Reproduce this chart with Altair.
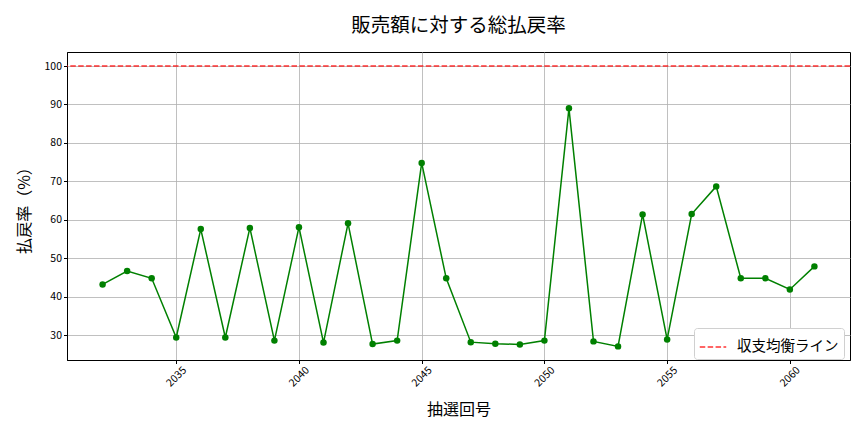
import altair as alt
import pandas as pd

rounds = list(range(2032, 2062))
rates = [43.2, 46.7, 44.8, 29.4, 57.6, 29.4, 57.9, 28.6, 58.1, 28.1,
         59.1, 27.7, 28.6, 74.8, 44.8, 28.2, 27.8, 27.6, 28.6, 89.0,
         28.4, 27.1, 61.4, 28.9, 61.5, 68.7, 44.8, 44.8, 41.9, 47.9]
x_ticks = [2035, 2040, 2045, 2050, 2055, 2060]
y_ticks = [30, 40, 50, 60, 70, 80, 90, 100]
breakeven_value = 100
breakeven_label = "収支均衡ライン"

FONT = "Noto Sans CJK JP"

df = pd.DataFrame({"round": rounds, "rate": rates})
ref_df = pd.DataFrame({"y": [breakeven_value], "label": [breakeven_label]})

x_scale = alt.Scale(domain=[2030.55, 2062.45], nice=False, zero=False)
y_scale = alt.Scale(domain=[23.56, 103.64], nice=False, zero=False)

x_axis = alt.Axis(values=x_ticks, format="d", labelAngle=315, labelAlign="center",
                  labelBaseline="middle", labelPadding=13, labelFontSize=10.5,
                  labelFont=FONT, title="抽選回号", titleFont=FONT, titleFontSize=16,
                  titleFontWeight="normal", titlePadding=13, grid=True,
                  gridColor="#b0b0b0", gridWidth=0.8, tickSize=3.5,
                  tickColor="#000000", domainColor="#000000", labelColor="#000000")
y_axis = alt.Axis(values=y_ticks, labelFontSize=10.5, labelFont=FONT,
                  title="払戻率（%）", titleFont=FONT, titleFontSize=16,
                  titleFontWeight="normal", titlePadding=12, grid=True,
                  gridColor="#b0b0b0", gridWidth=0.8, tickSize=3.5,
                  tickColor="#000000", domainColor="#000000", labelColor="#000000")

line = alt.Chart(df).mark_line(color="#008000", strokeWidth=1.5).encode(
    x=alt.X("round:Q", scale=x_scale, axis=x_axis),
    y=alt.Y("rate:Q", scale=y_scale, axis=y_axis),
)
points = alt.Chart(df).mark_circle(color="#008000", size=42, opacity=1).encode(
    x=alt.X("round:Q", scale=x_scale),
    y=alt.Y("rate:Q", scale=y_scale),
)
rule = alt.Chart(ref_df).mark_rule(strokeDash=[5.5, 2.4], strokeWidth=1.5, opacity=0.8).encode(
    y=alt.Y("y:Q", scale=y_scale),
    color=alt.Color("label:N",
                    scale=alt.Scale(domain=[breakeven_label], range=["#ff0000"]),
                    legend=alt.Legend(title=None, orient="none", legendX=627, legendY=276,
                                      symbolType="stroke", symbolDash=[5.5, 2.4],
                                      symbolStrokeWidth=1.5, symbolSize=700,
                                      labelFont=FONT, labelFontSize=14.5, labelOffset=10,
                                      fillColor="white", strokeColor="#d0d0d0",
                                      cornerRadius=3, padding=5, symbolOpacity=0.8)),
)

chart = alt.layer(line, points, rule).properties(
    width=783, height=308,
    title=alt.TitleParams("販売額に対する総払戻率", font=FONT, fontSize=19.5,
                          fontWeight="normal", anchor="middle", offset=16, color="#000000"),
    autosize=alt.AutoSizeParams(type="none"),
    padding={"left": 59, "top": 44, "right": 6, "bottom": 63},
).configure_view(stroke="#000000", strokeWidth=1)

chart.save("out.html", embed_options={"renderer": "svg", "actions": False})
